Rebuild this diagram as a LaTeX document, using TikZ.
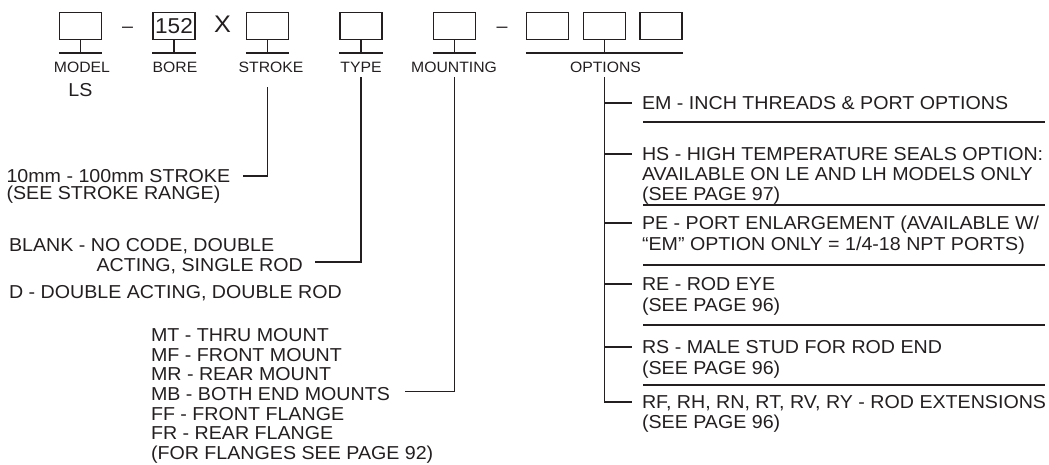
\documentclass[tikz,border=0pt]{standalone}
\usepackage{fontspec}
\setmainfont{Liberation Sans}[FakeStretch=1.05]
\definecolor{ink}{RGB}{35,31,32}
\newcommand\mainsz{\fontsize{18.7}{22}\selectfont}
\newcommand\lblsz{\fontsize{15}{18}\selectfont}
\begin{document}
\begin{tikzpicture}[x=1pt,y=-1pt,line width=1.1pt,color=ink,
  cbox/.style={draw, minimum width=42pt, minimum height=27pt, inner sep=0pt},
  txt/.style={font=\mainsz, inner sep=0pt, text height=13.4pt, text depth=0pt, anchor=west},
  lbl/.style={font=\lblsz, inner sep=0pt, text height=10.7pt, text depth=0pt},
  sym/.style={inner sep=0pt, text depth=0pt}]
\useasboundingbox (0,0) rectangle (1049,464);

% code boxes
\node[cbox] (bModel) at (80.5,26) {};
\node[cbox, font=\fontsize{21.5}{24}\selectfont] (bBore) at (174,26) {152};
\node[cbox] (bStroke) at (267.5,26) {};
\node[cbox] (bType) at (361,26) {};
\node[cbox] (bMount) at (454.5,26) {};
\node[cbox] (bOpt1) at (547.5,26) {};
\node[cbox] (bOpt2) at (604.5,26) {};
\node[cbox] (bOpt3) at (661,26) {};

\node[sym, font=\mainsz, text height=13.4pt] (dash1) at (127.5,26) {\textendash};
\node[sym, font=\fontsize{24}{28}\selectfont, text height=17.2pt] (times) at (222.5,24) {X};
\node[sym, font=\mainsz, text height=13.4pt] (dash2) at (502,26) {\textendash};

% stems and bases
\foreach \b in {bModel,bBore,bStroke,bType,bMount}{
  \draw (\b.south) -- (\b.south |- 0,53);
  \draw (\b.south west |- 0,53) -- (\b.south east |- 0,53);
}
\draw (bOpt2.south) -- (bOpt2.south |- 0,53);
\draw (bOpt1.south west |- 0,53) -- (bOpt3.south east |- 0,53);

% labels
\node[lbl] (lModel) at (82,67) {MODEL};
\node[lbl] (lBore) at (175,67) {BORE};
\node[lbl] (lStroke) at (271,67) {STROKE};
\node[lbl] (lType) at (361,67) {TYPE};
\node[lbl] (lMount) at (454,67) {MOUNTING};
\node[lbl] (lOpt) at (605.5,67) {OPTIONS};
\node[txt, anchor=center] (ls) at (80.5,90) {LS};

% stroke
\node[txt] (sA) at (6,176) {10mm - 100mm STROKE};
\node[txt] (sB) at (6,193) {(SEE STROKE RANGE)};
\draw (bStroke.south |- 0,87) |- ([xshift=12pt]sA.east);

% type
\node[txt] (tA) at (8.5,245) {BLANK - NO CODE, DOUBLE};
\node[txt] (tB) at (96,265) {ACTING, SINGLE ROD};
\node[txt] (tC) at (8.5,292) {D - DOUBLE ACTING, DOUBLE ROD};
\draw (bType.south |- 0,77) |- ([xshift=12pt,yshift=3pt]tB.east);

% mounting
\node[txt] (mA) at (150.5,335) {MT - THRU MOUNT};
\node[txt] (mB) at (150.5,354.6) {MF - FRONT MOUNT};
\node[txt] (mC) at (150.5,374.2) {MR - REAR MOUNT};
\node[txt] (mD) at (150.5,393.8) {MB - BOTH END MOUNTS};
\node[txt] (mE) at (150.5,413.4) {FF - FRONT FLANGE};
\node[txt] (mF) at (150.5,433) {FR - REAR FLANGE};
\node[txt] (mG) at (150.5,452.6) {(FOR FLANGES SEE PAGE 92)};
\draw (bMount.south |- 0,77) |- ([xshift=15pt,yshift=2pt]mD.east);

% options
\node[txt] (oA) at (641.5,103) {EM - INCH THREADS \& PORT OPTIONS};
\node[txt] (oB1) at (641.5,154) {HS - HIGH TEMPERATURE SEALS OPTION:};
\node[txt] (oB2) at (641.5,174) {AVAILABLE ON LE AND LH MODELS ONLY};
\node[txt] (oB3) at (641.5,194) {(SEE PAGE 97)};
\node[txt] (oC1) at (641.5,223) {PE - PORT ENLARGEMENT (AVAILABLE W/};
\node[txt] (oC2) at (641.5,244) {“EM” OPTION ONLY = 1/4-18 NPT PORTS)};
\node[txt] (oD1) at (641.5,284) {RE - ROD EYE};
\node[txt] (oD2) at (641.5,305) {(SEE PAGE 96)};
\node[txt] (oE1) at (641.5,347) {RS - MALE STUD FOR ROD END};
\node[txt] (oE2) at (641.5,368) {(SEE PAGE 96)};
\node[txt] (oF1) at (641.5,402) {RF, RH, RN, RT, RV, RY - ROD EXTENSIONS};
\node[txt] (oF2) at (641.5,422) {(SEE PAGE 96)};

\draw (bOpt2.south |- 0,77) |- ([xshift=-10pt]oF1.west);
\foreach \o in {oA,oB1,oC1,oD1,oE1}{
  \draw (bOpt2.south |- \o.west) -- ([xshift=-10pt]\o.west);
}
\foreach \yy in {122,205,265,325,385}{
  \draw (643,\yy) -- (1045,\yy);
}
\end{tikzpicture}
\end{document}
